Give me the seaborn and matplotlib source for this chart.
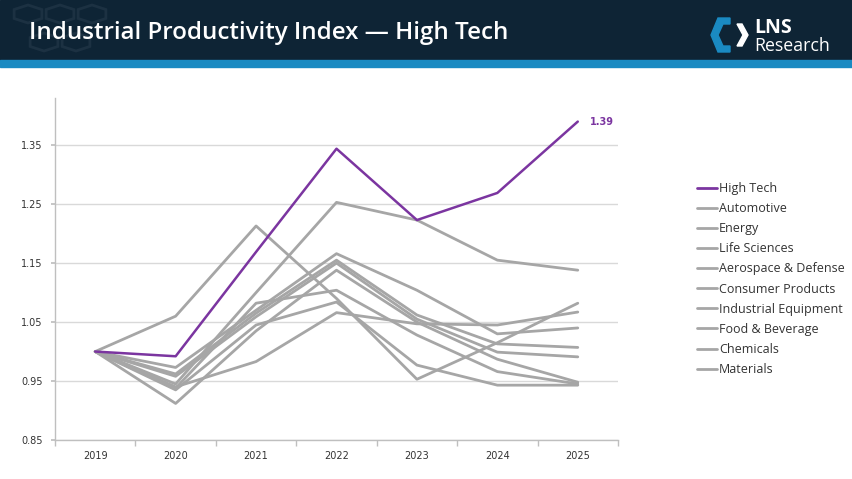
import pandas as pd
import matplotlib.pyplot as plt
import seaborn as sns
from matplotlib.patches import Rectangle, Polygon, RegularPolygon

sns.set_theme(style="white")
plt.rcParams['font.family'] = ['DejaVu Sans']

# dados
years = [2019, 2020, 2021, 2022, 2023, 2024, 2025]
industries = ["High Tech", "Automotive", "Energy", "Life Sciences", "Aerospace & Defense",
              "Consumer Products", "Industrial Equipment", "Food & Beverage", "Chemicals", "Materials"]
high_tech = [1.00, 0.992, 1.169, 1.344, 1.223, 1.269, 1.39]
automotive = [1.00, 0.945, 1.100, 1.253, 1.223, 1.155, 1.138]
energy = [1.00, 1.060, 1.213, 1.090, 0.953, 1.015, 1.082]
life_sciences = [1.00, 0.973, 1.070, 1.166, 1.104, 1.030, 1.040]
aerospace = [1.00, 0.962, 1.065, 1.155, 1.062, 1.013, 1.007]
consumer = [1.00, 0.958, 1.059, 1.150, 1.055, 0.999, 0.991]
ind_equipment = [1.00, 0.912, 1.035, 1.138, 1.050, 0.987, 0.948]
food_bev = [1.00, 0.938, 1.082, 1.104, 1.028, 0.966, 0.945]
chemicals = [1.00, 0.935, 1.045, 1.084, 0.977, 0.943, 0.943]
materials = [1.00, 0.940, 0.983, 1.066, 1.047, 1.045, 1.067]
yticks = [0.85, 0.95, 1.05, 1.15, 1.25, 1.35]

series = [high_tech, automotive, energy, life_sciences, aerospace, consumer,
          ind_equipment, food_bev, chemicals, materials]
rows = []
for name, vals in zip(industries, series):
    for yr, v in zip(years, vals):
        rows.append({"Year": yr, "Index": v, "Industry": name})
df = pd.DataFrame(rows)

purple = "#7b35a0"
grey = "#a6a6a6"
palette = {n: grey for n in industries}
palette["High Tech"] = purple

W, H = 852, 479
fig = plt.figure(figsize=(W / 100, H / 100), dpi=100)

def fx(px):
    return px / W

def fy(py):
    return 1 - py / H

# cabeçalho
fig.patches.append(Rectangle((0, fy(60)), 1, 60 / H, transform=fig.transFigure,
                             color="#0e2435", zorder=0))
fig.patches.append(Rectangle((0, fy(67)), 1, 7 / H, transform=fig.transFigure,
                             color="#1a8ac2", zorder=0))
# hexágonos apagados no canto
for cx, cy in [(28, 14), (60, 14), (92, 14), (44, 42), (76, 42)]:
    fig.patches.append(RegularPolygon((fx(cx), fy(cy)), numVertices=6, radius=16 / W,
                                      orientation=0, transform=fig.transFigure,
                                      fill=False, edgecolor="#1c3142", linewidth=2))
fig.text(fx(29), fy(33), "Industrial Productivity Index \u2014 High Tech", color="white",
         fontsize=17.4, fontweight="semibold", family=["Open Sans", "DejaVu Sans"],
         va="center", ha="left")

# logo LNS
bracket = [(730, 18), (718, 18), (711, 35), (718, 52), (730, 52), (730, 46),
           (723, 46), (718, 35), (723, 24), (730, 24)]
chevron = [(737, 24), (742, 24), (748, 35), (742, 46), (737, 46), (743, 35)]
fig.patches.append(Polygon([(fx(a), fy(b)) for a, b in bracket], closed=True,
                           transform=fig.transFigure, color="#1a8ac2"))
fig.patches.append(Polygon([(fx(a), fy(b)) for a, b in chevron], closed=True,
                           transform=fig.transFigure, color="white"))
fig.text(fx(754), fy(28), "LNS", color="white", fontsize=14, fontweight="bold",
         family=["Open Sans", "DejaVu Sans"], va="center", ha="left")
fig.text(fx(754), fy(46), "Research", color="white", fontsize=12.8,
         family=["Open Sans", "DejaVu Sans"], va="center", ha="left")

ax = fig.add_axes([fx(55), 1 - 440 / H, 563 / W, 342 / H])
sns.lineplot(data=df, x="Year", y="Index", hue="Industry", hue_order=industries,
             palette=palette, linewidth=2, ax=ax)
ax.lines[0].set_zorder(5)
ax.lines[0].set_linewidth(1.8)

ax.set_xlim(2018.5, 2025.5)
ax.set_ylim(0.85, 1.43)
ax.set_xticks(years)
ax.set_xticklabels([str(y) for y in years])
ax.set_xticks([y + 0.5 for y in years[:-1]] + [2018.5, 2025.5], minor=True)
ax.set_yticks(yticks)
ax.set_yticklabels([f"{t:.2f}" for t in yticks])
ax.set_xlabel("")
ax.set_ylabel("")
ax.grid(axis="y", color="#d9d9d9", linewidth=1)
ax.set_axisbelow(True)
for s in ["top", "right"]:
    ax.spines[s].set_visible(False)
for s in ["left", "bottom"]:
    ax.spines[s].set_color("#bfbfbf")
    ax.spines[s].set_linewidth(1)
ax.tick_params(axis="x", which="major", length=0, labelsize=7, labelcolor="#333333", pad=8)
ax.tick_params(axis="x", which="minor", length=4, color="#bfbfbf", direction="out", bottom=True)
ax.tick_params(axis="y", length=3, color="#bfbfbf", labelsize=7, labelcolor="#333333",
               left=True, pad=6)

ax.annotate("1.39", xy=(2025, high_tech[-1]), xytext=(9, 0), textcoords="offset points",
            color=purple, fontsize=7, fontweight="bold", va="center", ha="left")

ax.legend_.remove()
h, l = ax.get_legend_handles_labels()
leg = fig.legend(h, l, loc="upper left", bbox_to_anchor=(fx(692), fy(177)),
                 frameon=False, handlelength=1.6, handletextpad=0.15,
                 labelspacing=0.57, borderaxespad=0,
                 prop={"family": ["Open Sans", "DejaVu Sans"], "size": 9})
for t in leg.get_texts():
    t.set_color("#333333")

plt.savefig("out.png", dpi=100)
